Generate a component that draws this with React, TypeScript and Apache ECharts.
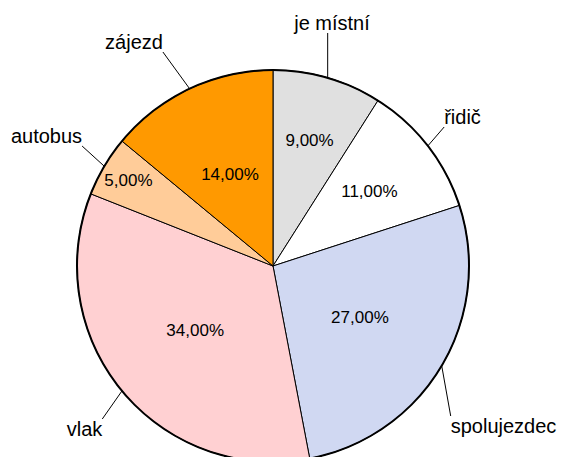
import React, { useEffect, useRef } from "react";
import * as echarts from "echarts";

// ---- data ----
const categories = ["je místní", "řidič", "spolujezdec", "vlak", "autobus", "zájezd"];
const shares = [9, 11, 27, 34, 5, 14];
const sliceColors = ["#E0E0E0", "#FFFFFF", "#D0D8F2", "#FFD0D2", "#FFCC99", "#FF9900"];

// ---- layout / styling (not data) ----
const PIE_CENTER = [273, 266];
const PIE_RADIUS = 196;
// centre of each category label (outside the pie)
const outerLabelCenters = [
  [332, 23],
  [462.5, 117],
  [503.5, 426],
  [84.5, 429],
  [46.5, 136],
  [134, 42],
];
// distance of each percentage label from the pie centre
const pctLabelDist = [128, 119, 98, 98, 165, 98];

const FONT = "'Liberation Sans', Arial, Helvetica, sans-serif";

function fmtPct(p: number) {
  return p.toFixed(2).replace(".", ",") + "%";
}

export default function App() {
  const ref = useRef<HTMLDivElement>(null);

  useEffect(() => {
    document.body.style.margin = "0";
    if (!ref.current) return;
    const chart = echarts.init(ref.current, undefined, { renderer: "svg" });

    const pieData = categories.map((name, i) => ({
      name,
      value: shares[i],
      itemStyle: { color: sliceColors[i] },
    }));

    // one invisible label pie per distinct label distance
    const dists = Array.from(new Set(pctLabelDist));
    const labelSeries = dists.map((d) => ({
      type: "pie",
      silent: true,
      z: 5,
      center: PIE_CENTER,
      radius: [0, d * 2],
      startAngle: 90,
      clockwise: true,
      avoidLabelOverlap: false,
      itemStyle: { color: "rgba(0,0,0,0)", borderWidth: 0 },
      emphasis: { disabled: true },
      labelLine: { show: false },
      data: categories.map((name, i) => ({
        name,
        value: shares[i],
        label: {
          show: pctLabelDist[i] === d,
          position: "inside",
          formatter: (p: any) => fmtPct(p.percent),
          fontFamily: FONT,
          fontSize: 17,
          color: "#000",
        },
      })),
    }));

    const option: any = {
      animation: false,
      backgroundColor: "#FFFFFF",
      series: [
        {
          type: "pie",
          center: PIE_CENTER,
          radius: [0, PIE_RADIUS],
          startAngle: 90,
          clockwise: true,
          avoidLabelOverlap: false,
          itemStyle: { borderColor: "#000", borderWidth: 1 },
          emphasis: { disabled: true },
          label: {
            show: true,
            position: "outside",
            formatter: "{b}",
            fontFamily: FONT,
            fontSize: 20,
            color: "#000",
          },
          labelLine: {
            show: true,
            length: 15,
            length2: 0,
            lineStyle: { color: "#000", width: 1 },
          },
          labelLayout: (params: any) => {
            const i = params.dataIndex;
            const [cx, cy] = outerLabelCenters[i];
            const w = params.labelRect.width;
            const h = params.labelRect.height;
            const left = cx - w / 2;
            const right = cx + w / 2;
            const top = cy - h / 2;
            const bottom = cy + h / 2;
            const pts = params.labelLinePoints;
            const start = pts && pts.length ? pts[0] : [cx, cy];
            const ex = Math.min(Math.max(start[0], left), right);
            const ey = Math.min(Math.max(start[1], top), bottom);
            return {
              x: cx,
              y: cy,
              align: "center",
              verticalAlign: "middle",
              labelLinePoints: [
                [start[0], start[1]],
                [ex, ey],
              ],
            };
          },
          data: pieData,
        },
        {
          type: "pie",
          silent: true,
          z: 4,
          center: PIE_CENTER,
          radius: [PIE_RADIUS - 1, PIE_RADIUS + 1],
          startAngle: 90,
          itemStyle: { color: "#000", borderWidth: 0 },
          emphasis: { disabled: true },
          label: { show: false },
          labelLine: { show: false },
          data: [{ name: "outline", value: 1 }],
        },
        ...labelSeries,
      ],
    };

    chart.setOption(option);
    return () => chart.dispose();
  }, []);

  return <div ref={ref} style={{ width: 561, height: 457 }} />;
}
